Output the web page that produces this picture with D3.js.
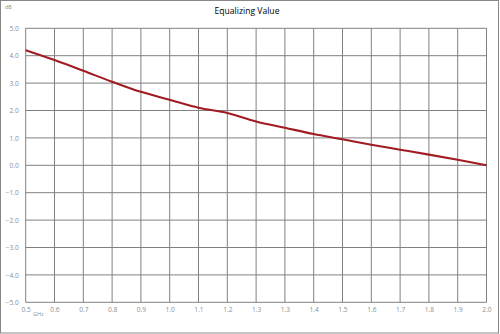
<!DOCTYPE html>
<html>
<head>
<meta charset="utf-8">
<script src="https://cdn.jsdelivr.net/npm/d3@7/dist/d3.min.js"></script>
<style>
  body { margin: 0; background: #fff; }
  svg { display: block; }
</style>
</head>
<body>
<svg id="chart" width="500" height="334"></svg>
<script>
// frequency labels as printed on the axis (step 1.5/16 GHz, rounded)
var freqLabels = ["0.5","0.6","0.7","0.8","0.9","1.0","1.1","1.2","1.3","1.3","1.4","1.5","1.6","1.7","1.8","1.9","2.0"];
// equalizing value in dB
var eqValues = [4.20, 3.84, 3.45, 3.05, 2.68, 2.39, 2.10, 1.91, 1.60, 1.37, 1.14, 0.95, 0.75, 0.57, 0.39, 0.20, 0.00];
var yTicks = [5, 4, 3, 2, 1, 0, -1, -2, -3, -4, -5];

var svg = d3.select('#chart');
var W = 500, H = 334;
var plotL = 25.7, plotR = 486.5, plotT = 28.3, plotB = 302.3;
var labelFont = '"Open Sans", "DejaVu Sans", sans-serif';

// outer frame
svg.append('rect')
    .attr('x', 0.5).attr('y', 0.5)
    .attr('width', W - 2).attr('height', H - 1.5)
    .attr('fill', '#fff')
    .attr('stroke', '#878787')
    .attr('stroke-width', 1);

var x = d3.scalePoint()
    .domain(d3.range(freqLabels.length))
    .range([plotL, plotR]);
var y = d3.scaleLinear()
    .domain([-5, 5])
    .range([plotB, plotT]);

// grid
var grid = svg.append('g').attr('stroke', '#808080').attr('stroke-width', 1);
grid.selectAll('.vline').data(x.domain()).enter()
    .append('line')
    .attr('class', 'vline')
    .attr('x1', function(d){ return x(d); })
    .attr('x2', function(d){ return x(d); })
    .attr('y1', plotT).attr('y2', plotB);
grid.selectAll('.hline').data(yTicks).enter()
    .append('line')
    .attr('class', 'hline')
    .attr('x1', plotL).attr('x2', plotR)
    .attr('y1', function(d){ return y(d); })
    .attr('y2', function(d){ return y(d); });

// y axis labels
var yAxis = d3.axisLeft(y).tickValues(yTicks).tickFormat(d3.format('.1f')).tickSize(0).tickPadding(7);
var gy = svg.append('g').attr('transform', 'translate(' + plotL + ',0)').call(yAxis);
gy.select('.domain').remove();
gy.selectAll('text')
    .attr('fill', '#8e8e8e')
    .style('font-family', labelFont)
    .style('font-size', '6.6px');

// x axis labels
var xAxis = d3.axisBottom(x).tickFormat(function(i){ return freqLabels[i]; }).tickSize(0).tickPadding(5);
var gx = svg.append('g').attr('transform', 'translate(0,' + plotB + ')').call(xAxis);
gx.select('.domain').remove();
gx.selectAll('text')
    .attr('fill', '#8e8e8e')
    .style('font-family', labelFont)
    .style('font-size', '6.6px');

// unit labels
svg.append('text')
    .attr('x', 33).attr('y', 316)
    .attr('fill', '#8e8e8e')
    .style('font-family', labelFont)
    .style('font-size', '5.5px')
    .text('GHz');
svg.append('text')
    .attr('x', 5).attr('y', 9)
    .attr('fill', '#8e8e8e')
    .style('font-family', labelFont)
    .style('font-size', '5.5px')
    .text('dB');

// title
svg.append('text')
    .attr('x', 247).attr('y', 13.5)
    .attr('text-anchor', 'middle')
    .attr('fill', '#000')
    .style('font-family', labelFont)
    .style('font-size', '8.6px')
    .text('Equalizing Value');

// curve
var line = d3.line()
    .x(function(d, i){ return x(i); })
    .y(function(d){ return y(d); })
    .curve(d3.curveCatmullRom.alpha(0.5));
svg.append('path')
    .datum(eqValues)
    .attr('d', line)
    .attr('fill', 'none')
    .attr('stroke', '#a01c22')
    .attr('stroke-width', 2.1)
    .attr('stroke-linejoin', 'round');
</script>
</body>
</html>
